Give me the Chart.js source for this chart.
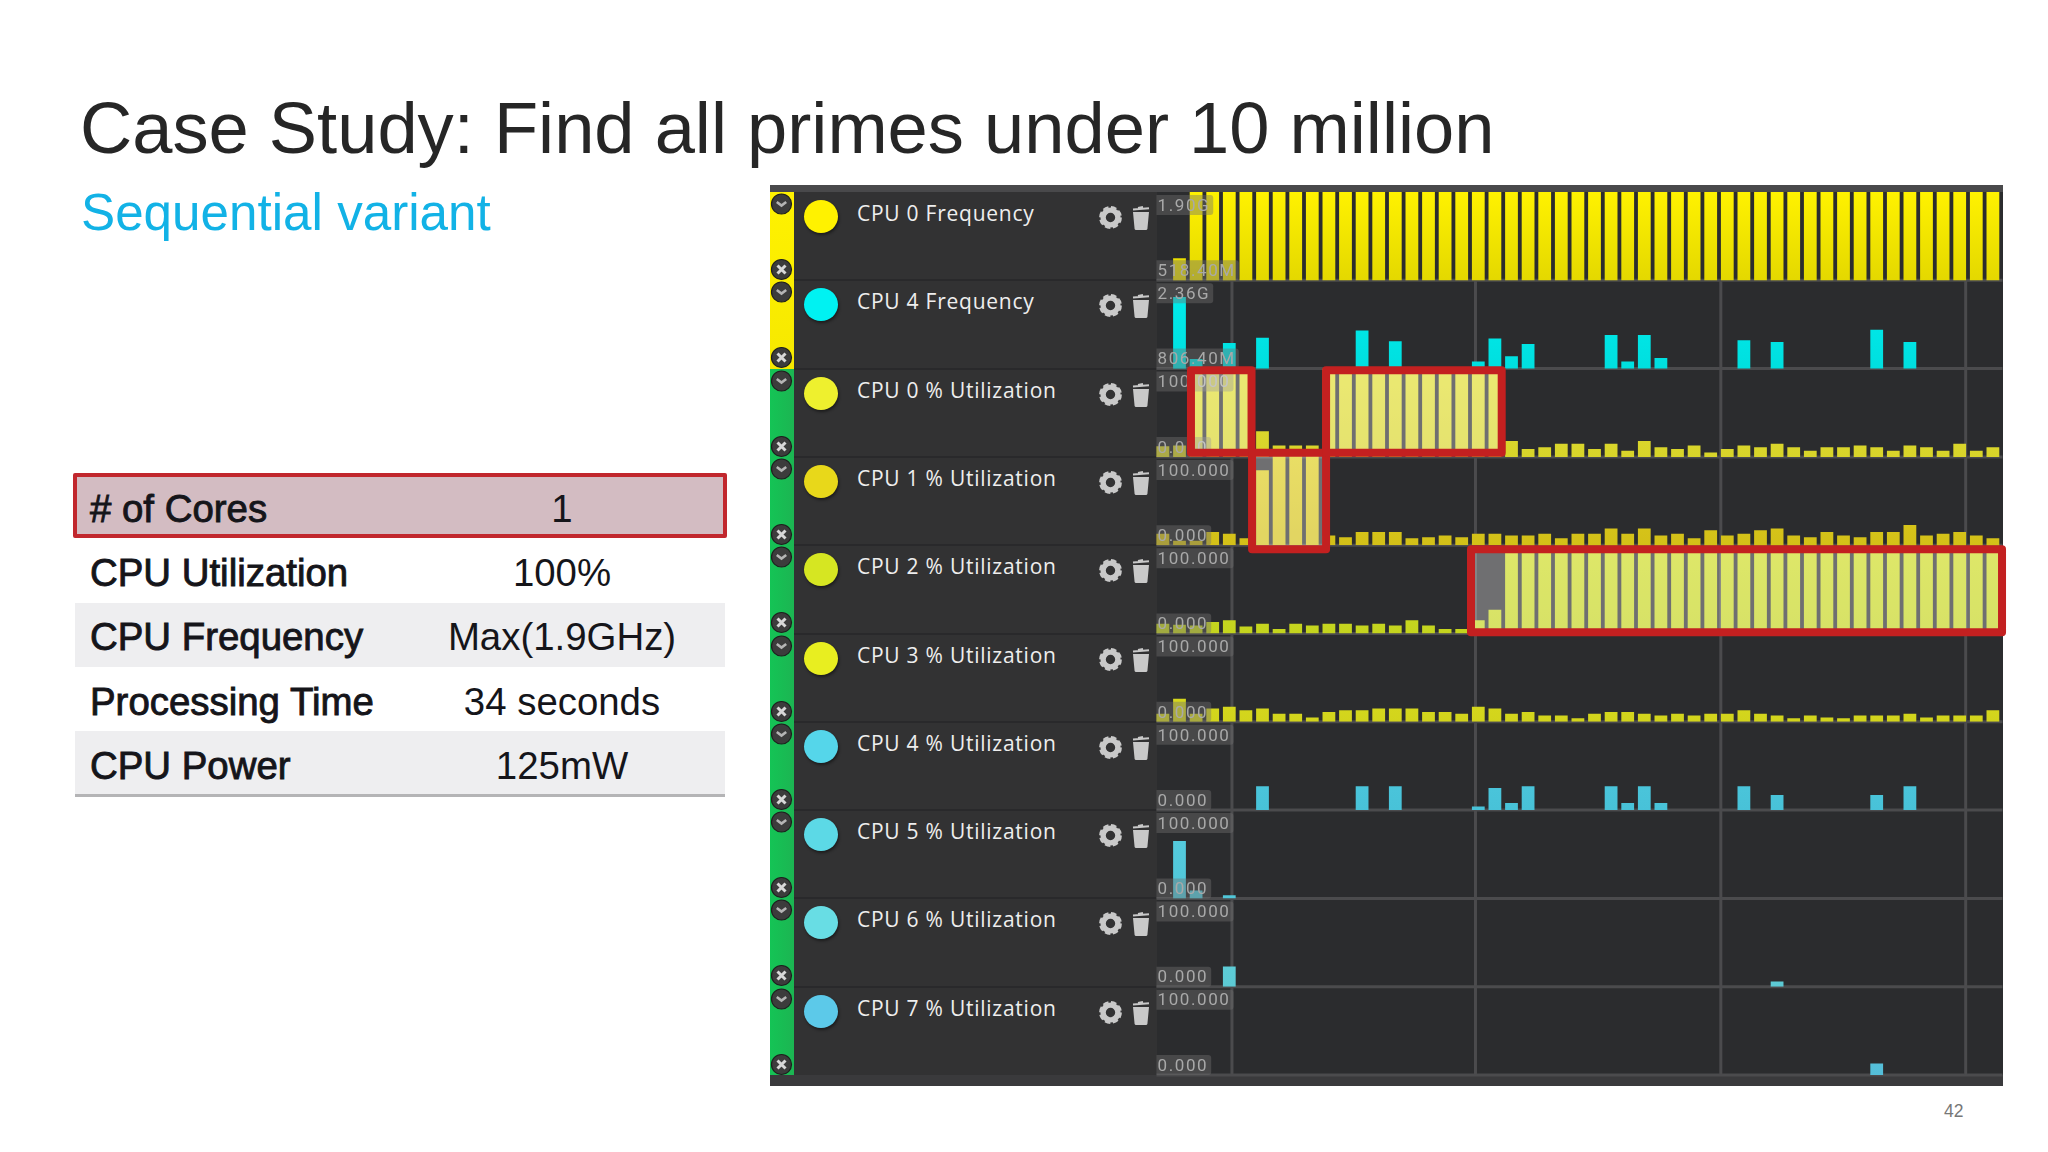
<!DOCTYPE html>
<html><head><meta charset="utf-8">
<script src="https://cdn.jsdelivr.net/npm/chart.js@4"></script>
<style>
html,body{margin:0;padding:0;background:#fff;width:2048px;height:1152px;overflow:hidden;font-family:"Liberation Sans",Arial,sans-serif}
.a{position:absolute;white-space:nowrap}
#chart{position:absolute;left:0;top:0;pointer-events:none}
.t{font-size:38.4px;line-height:44px;color:#15151a}
.b{-webkit-text-stroke:.9px #15151a;left:90px}
.v{left:362px;width:400px;text-align:center}
.rl{font-family:"Open Sans";font-size:21px;line-height:28px;color:#eee;left:857px;letter-spacing:.75px}
</style></head><body>
<div id="page"></div>
<canvas id="chart" width="2048" height="1152"></canvas>
<script>
const titleText = "Case Study: Find all primes under 10 million";
const subtitleText = "Sequential variant";
const pageNumber = "42";
const tableRows = [["# of Cores","1"],["CPU Utilization","100%"],["CPU Frequency","Max(1.9GHz)"],["Processing Time","34 seconds"],["CPU Power","125mW"]];
const rowNames = ["CPU 0 Frequency","CPU 4 Frequency","CPU 0 % Utilization","CPU 1 % Utilization","CPU 2 % Utilization","CPU 3 % Utilization","CPU 4 % Utilization","CPU 5 % Utilization","CPU 6 % Utilization","CPU 7 % Utilization"];
const topLabels = ["1.90G","2.36G","100.000","100.000","100.000","100.000","100.000","100.000","100.000","100.000"];
const bottomLabels = ["518.40M","806.40M","0.000","0.000","0.000","0.000","0.000","0.000","0.000","0.000"];
const axisMin = [518.4,806.4,0,0,0,0,0,0,0,0];
const axisMax = [1900,2360,100,100,100,100,100,100,100,100];
const categories = ["0","1","2","3","4","5","6","7","8","9","10","11","12","13","14","15","16","17","18","19","20","21","22","23","24","25","26","27","28","29","30","31","32","33","34","35","36","37","38","39","40","41","42","43","44","45","46","47","48","49","50"];
const n = null;
const cpu0Freq = [n,864,1900,1900,1900,1900,1900,1900,1900,1900,1900,1900,1900,1900,1900,1900,1900,1900,1900,1900,1900,1900,1900,1900,1900,1900,1900,1900,1900,1900,1900,1900,1900,1900,1900,1900,1900,1900,1900,1900,1900,1900,1900,1900,1900,1900,1900,1900,1900,1900,1900];
const cpu4Freq = [n,2065,977,n,1257,n,1350,n,n,n,n,n,1475,n,1288,n,n,n,n,931,1335,1024,1241,n,n,n,n,1397,931,1397,993,n,n,n,n,1304,n,1273,n,n,n,n,n,1490,n,1273,n,n,n,n,n];
const cpu0Util = [12,13,100,100,100,100,29,13,13,13,100,100,100,100,100,100,100,100,100,100,96,18,9,11,15,15,9,15,7,18,11,9,13,5,9,13,11,15,11,7,11,11,13,11,7,13,11,7,15,7,11];
const cpu1Util = [13,5,5,15,13,8,85,100,100,100,11,9,15,15,15,8,9,11,9,13,13,11,11,13,8,13,13,19,13,19,11,13,8,17,11,13,17,19,11,9,15,11,9,15,15,23,11,13,15,11,8];
const cpu2Util = [11,10,9,13,15,8,11,5,11,9,11,11,9,11,9,15,9,5,5,15,27,100,100,100,100,100,100,100,100,100,100,100,100,100,100,100,100,100,100,100,100,100,100,100,100,100,100,100,100,100,100];
const cpu3Util = [9,26,9,15,17,13,15,9,9,5,11,13,13,15,15,15,11,11,9,17,15,9,11,7,7,4,9,11,11,9,7,9,7,9,9,13,9,7,4,7,5,4,7,7,7,9,5,7,7,7,13];
const cpu4Util = [0,0,0,0,0,0,27,0,0,0,0,0,27,0,27,0,0,0,0,4,25,8,27,0,0,0,0,27,8,27,8,0,0,0,0,27,0,17,0,0,0,0,0,17,0,27,0,0,0,0,0];
const cpu5Util = [0,65,9,0,3.5,0,0,0,0,0,0,0,0,0,0,0,0,0,0,0,0,0,0,0,0,0,0,0,0,0,0,0,0,0,0,0,0,0,0,0,0,0,0,0,0,0,0,0,0,0,0];
const cpu6Util = [0,0,0,0,23,0,0,0,0,0,0,0,0,0,0,0,0,0,0,0,0,0,0,0,0,0,0,0,0,0,0,0,0,0,0,0,0,6,0,0,0,0,0,0,0,0,0,0,0,0,0];
const cpu7Util = [0,0,0,0,0,0,0,0,0,0,0,0,0,0,0,0,0,0,0,0,0,0,0,0,0,0,0,0,0,0,0,0,0,0,0,0,0,0,0,0,0,0,0,13,0,0,0,0,0,0,0];
const rowValues = [cpu0Freq,cpu4Freq,cpu0Util,cpu1Util,cpu2Util,cpu3Util,cpu4Util,cpu5Util,cpu6Util,cpu7Util];
const barTop = ["#fff200","#00eeee","#e2df30","#dfce1c","#cfdc22","#dfe020","#50cbe0","#56cde0","#62d2dc","#5ac6e0"];
const barBottom = ["#e4d800","#00dfdf","#d8d42a","#d3c018","#c4d41e","#d2d41c","#48c2d8","#50c6d8","#5ccad4","#54bed8"];
const dotColors = ["#fff200","#00f2f2","#eef02e","#e8d81a","#d6e622","#e8ee20","#55d6ea","#5cd9e6","#68dde4","#5cc9e9"];
const timeMarks = [4.16,18.83,33.61,48.36];
const highlights = [
  {row:2,from:1.69,to:5.34,top:98,bottom:4.8},
  {row:3,from:5.37,to:9.83,top:104.8,bottom:-4.5},
  {row:2,from:9.83,to:20.41,top:98,bottom:4.8},
  {row:4,from:18.56,to:50.55,top:95.5,bottom:1.5}
];

const ROW_TOP = 192, ROW_H = 88.3;
const page = document.getElementById('page');
function box(l,t,w,h,bg,extra){const d=document.createElement('div');d.className='a';d.style.cssText=`left:${l}px;top:${t}px;width:${w}px;height:${h}px;background:${bg};${extra||''}`;page.appendChild(d);return d;}
function text(cls,l,t,s,extra){const d=document.createElement('div');d.className='a '+cls;d.textContent=s;if(l!==null)d.style.left=l+'px';d.style.top=t+'px';if(extra)d.style.cssText+=extra;page.appendChild(d);return d;}

text('',80,86,titleText,'font-size:72.3px;line-height:84px;color:#262626;');
text('',81,182,subtitleText,'font-size:51.2px;line-height:62px;color:#12b2e6;');
text('',1944,1101,pageNumber,'font-size:17.5px;line-height:20px;color:#777;');

// table
box(75,603,650,64,'#eeeef0'); box(75,731,650,64,'#eeeef0'); box(75,794,650,3,'#b4b4b6');
box(73,473,654,65,'#d3bcc2','box-sizing:border-box;border:4px solid #c1272d;border-radius:2px;');
const tableY=[487,551,615,680,744];
tableRows.forEach((r,i)=>{text('t b',null,tableY[i],r[0]);text('t v',null,tableY[i],r[1]);});

// panel
box(770,185,1232.5,901,'#2b2c2e');
box(770,185,1232.5,7,'#49494b');
box(770,1075,1232.5,11,'#3a3a3c');
box(770,192,386.5,883,'#323233');
box(770,192,24,176.6,'linear-gradient(#fff200,#f6e800)');
box(770,368.6,24,706.4,'linear-gradient(90deg,#14c455,#1cb552)');

const svgNS='http://www.w3.org/2000/svg';
function svg(l,t,w,h,html){const d=document.createElement('div');d.className='a';d.style.cssText=`left:${l}px;top:${t}px;width:${w}px;height:${h}px`;d.innerHTML=`<svg xmlns="${svgNS}" width="${w}" height="${h}" viewBox="0 0 ${w} ${h}">${html}</svg>`;page.appendChild(d);}
rowNames.forEach((name,i)=>{
  const top=ROW_TOP+i*ROW_H;
  if(i>0) box(794,top-1,362,2,'#29292b');
  box(804,top+8,34,33,dotColors[i],'border-radius:50%;box-shadow:1px 2px 3px rgba(0,0,0,.45);');
  text('rl',null,top+7,name);
  svg(1098,top+13,26,26,'<circle cx="12.5" cy="12.5" r="7.4" fill="none" stroke="#c9c9c9" stroke-width="5.4"/><circle cx="12.5" cy="12.5" r="10.4" fill="none" stroke="#c9c9c9" stroke-width="2" stroke-dasharray="5.6 2.6"/>');
  svg(1131,top+13,22,26,'<path d="M2 7h16l-1.6 17a1.5 1.5 0 0 1-1.5 1H5.1a1.5 1.5 0 0 1-1.5-1z" fill="#c9c9c9"/><path d="M2 4.5l16-1.2M7 3l5-1" stroke="#c9c9c9" stroke-width="2" fill="none"/>');
  svg(770,top+1,23,23,'<circle cx="11.5" cy="11" r="10" fill="#3c3c3c" stroke="#1e1e1e" stroke-width="1.2"/><path d="M6.8 9l4.7 3.6 4.7-3.6" stroke="#b5b5b5" stroke-width="2.6" fill="none"/>');
  svg(770,top+66,23,23,'<circle cx="11.5" cy="11.5" r="10" fill="#3c3c3c" stroke="#1e1e1e" stroke-width="1.2"/><path d="M7.5 7.5l8 8M15.5 7.5l-8 8" stroke="#d8d8d8" stroke-width="3" fill="none"/>');
});

const rowId = i => 'r'+i;
const scales = {x:{type:'category',display:false,offset:true,grid:{display:false}}};
rowNames.forEach((_,i)=>{
  scales[rowId(i)]={type:'linear',position:'left',stack:'rows',stackWeight:1,weight:9-i,min:axisMin[i],max:axisMax[i],display:false,grid:{display:false},beginAtZero:false};
});
const datasets = rowNames.map((name,i)=>({
  label:name,data:rowValues[i],yAxisID:rowId(i),grouped:false,barPercentage:.77,categoryPercentage:1,borderWidth:0,
  backgroundColor(c){
    const s=c.chart.scales[rowId(i)]; if(!s||!isFinite(s.top)||!isFinite(s.bottom)||s.bottom<=s.top) return barTop[i];
    const g=c.chart.ctx.createLinearGradient(0,s.top,0,s.bottom);g.addColorStop(0,barTop[i]);g.addColorStop(1,barBottom[i]);return g;
  }
}));

const panelPlugin={id:'panel',
  beforeDatasetsDraw(ch){
    const c=ch.ctx,x=ch.scales.x,a=ch.chartArea;
    c.save();c.strokeStyle='#4b4b4d';c.lineWidth=3;
    rowNames.forEach((_,i)=>{const s=ch.scales[rowId(i)];c.beginPath();c.moveTo(a.left+1.9,s.bottom);c.lineTo(2002.5,s.bottom);c.stroke();});
    const t1=ch.scales[rowId(1)].top,bt=ch.scales[rowId(9)].bottom;
    timeMarks.forEach(k=>{const p=x.getPixelForValue(k);c.beginPath();c.moveTo(p,t1);c.lineTo(p,bt);c.stroke();});
    c.restore();
  },
  afterDatasetsDraw(ch){
    const c=ch.ctx,x=ch.scales.x,a=ch.chartArea;
    c.save();
    c.font='17px Roboto';c.letterSpacing='1.6px';c.textBaseline='middle';
    const L=a.left+1.9;
    rowNames.forEach((_,i)=>{
      const s=ch.scales[rowId(i)];
      [[topLabels[i],s.top+3,20],[bottomLabels[i],s.bottom-20,20]].forEach(([txt,y,h])=>{
        const w=c.measureText(txt).width+4;
        c.fillStyle='rgba(112,112,112,.42)';c.beginPath();c.roundRect(L,y,w,h,[0,3,3,0]);c.fill();
        c.fillStyle='#a9a9a9';c.fillText(txt,L+1,y+h/2+1.5);
      });
    });
    // highlight frames read through the scales
    const rects=highlights.map(b=>{const s=ch.scales[rowId(b.row)];const l=x.getPixelForValue(b.from),r=x.getPixelForValue(b.to),t=s.getPixelForValue(b.top),bo=s.getPixelForValue(b.bottom);return [l,t,r-l,bo-t];});
    c.fillStyle='rgba(255,255,255,.32)';
    rects.forEach(r=>c.fillRect(...r));
    c.strokeStyle='#c32020';c.lineWidth=8;c.lineJoin='round';
    rects.forEach(r=>c.strokeRect(...r));
    c.restore();
  }
};

new Chart(document.getElementById('chart'),{
  type:'bar',
  data:{labels:categories,datasets},
  options:{responsive:false,animation:false,devicePixelRatio:1,
    layout:{padding:{left:1154.6,right:46.8,top:192,bottom:77}},
    plugins:{legend:{display:false},tooltip:{enabled:false},title:{display:false}},
    scales},
  plugins:[panelPlugin]
});
</script>
</body></html>
